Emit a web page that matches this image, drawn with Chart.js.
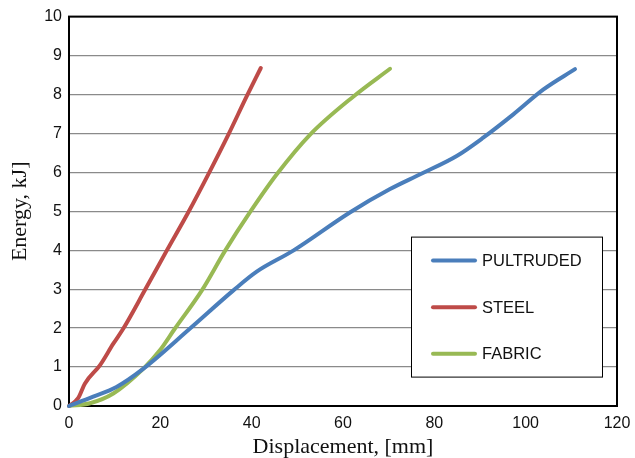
<!DOCTYPE html>
<html>
<head>
<meta charset="utf-8">
<script src="https://cdn.jsdelivr.net/npm/chart.js@4.4.1/dist/chart.umd.min.js"></script>
<style>
  body { margin: 0; background: #fff; }
  canvas { display: block; }
</style>
</head>
<body>
<canvas id="chart" width="635" height="458"></canvas>
<script>
// Series (displacement mm, energy kJ)
const pultrudedX = [0, 5.3, 10.4, 16.3, 26.5, 36.0, 41.1, 49.1, 61.5, 70.3, 76.9, 84.9, 90.7, 97.3, 103.9, 110.8];
const pultrudedY = [0, 0.24, 0.49, 0.96, 1.99, 2.97, 3.45, 3.99, 4.97, 5.57, 5.95, 6.42, 6.89, 7.49, 8.13, 8.65];

const steelX = [0, 2.0, 3.5, 6.8, 9.7, 11.9, 16.6, 21.4, 26.1, 30.5, 34.9, 38.9, 42.0];
const steelY = [0, 0.2, 0.58, 1.05, 1.6, 1.99, 2.97, 3.99, 4.97, 5.95, 6.97, 7.95, 8.68];

const fabricX = [0, 4.6, 9.7, 16.3, 19.9, 23.2, 29.1, 34.2, 39.6, 45.5, 52.8, 62.3, 70.3];
const fabricY = [0, 0.07, 0.32, 0.96, 1.43, 1.99, 2.97, 3.99, 4.97, 5.95, 6.97, 7.95, 8.66];

const seriesNames = ["PULTRUDED", "STEEL", "FABRIC"];
const seriesColors = ["#4a7ebb", "#be4b48", "#98b954"];

const xTicks = { min: 0, max: 120, step: 20 };
const yTicks = { min: 0, max: 10, step: 1 };

function points(xs, ys) {
    return xs.map((x, i) => ({ x: x, y: ys[i] }));
}

const sansFont = "'Liberation Sans', Arial, sans-serif";
const serifFont = "'Liberation Serif', 'Times New Roman', serif";

// black frame around the plot area
const framePlugin = {
    id: "frame",
    beforeDatasetsDraw(chart) {
        const a = chart.chartArea;
        const ctx = chart.ctx;
        ctx.save();
        ctx.strokeStyle = "#000";
        ctx.lineWidth = 2;
        ctx.strokeRect(a.left, a.top, a.right - a.left, a.bottom - a.top);
        ctx.restore();
    }
};

// boxed legend inside the plot, bottom right
const legendPlugin = {
    id: "boxLegend",
    afterDatasetsDraw(chart) {
        const a = chart.chartArea;
        const ctx = chart.ctx;
        const bx = a.right - 206, by = a.top + 220, bw = 191, bh = 140;
        ctx.save();
        ctx.fillStyle = "#fff";
        ctx.fillRect(bx, by, bw, bh);
        ctx.strokeStyle = "#000";
        ctx.lineWidth = 1;
        ctx.strokeRect(bx + 0.5, by + 0.5, bw, bh);
        ctx.font = "16.5px " + sansFont;
        ctx.textBaseline = "middle";
        ctx.lineCap = "round";
        chart.data.datasets.forEach((ds, i) => {
            const ry = by + 24 + i * 46.6;
            ctx.strokeStyle = ds.borderColor;
            ctx.lineWidth = 4;
            ctx.beginPath();
            ctx.moveTo(bx + 22, ry);
            ctx.lineTo(bx + 64, ry);
            ctx.stroke();
            ctx.fillStyle = "#111";
            ctx.fillText(ds.label, bx + 71, ry + 1);
        });
        ctx.restore();
    }
};

const datasets = [
    points(pultrudedX, pultrudedY),
    points(steelX, steelY),
    points(fabricX, fabricY)
].map((data, i) => ({
    label: seriesNames[i],
    data: data,
    borderColor: seriesColors[i],
    backgroundColor: seriesColors[i],
    borderWidth: 4,
    pointRadius: 0,
    cubicInterpolationMode: "monotone",
    borderCapStyle: "round",
    fill: false,
    clip: 6
}));

new Chart(document.getElementById("chart"), {
    type: "line",
    data: { datasets: datasets },
    options: {
        responsive: false,
        animation: false,
        layout: { padding: { left: 0, right: 18, top: 16, bottom: 0 } },
        plugins: {
            legend: { display: false },
            tooltip: { enabled: false }
        },
        scales: {
            x: {
                type: "linear",
                min: xTicks.min,
                max: xTicks.max,
                ticks: {
                    stepSize: xTicks.step,
                    padding: 8,
                    color: "#111",
                    font: { family: sansFont, size: 16 }
                },
                grid: { display: false, drawTicks: false },
                border: { display: false },
                title: {
                    display: true,
                    text: "Displacement, [mm]",
                    color: "#111",
                    font: { family: serifFont, size: 22, lineHeight: 1 },
                    padding: { top: 0, bottom: 0 }
                },
                afterFit(scale) {
                    scale.height = 52;
                    scale.paddingLeft = 0;
                    scale.paddingRight = 0;
                }
            },
            y: {
                min: yTicks.min,
                max: yTicks.max,
                ticks: {
                    stepSize: yTicks.step,
                    padding: 7,
                    color: "#111",
                    font: { family: sansFont, size: 16 }
                },
                grid: { color: "#8a8a8a", lineWidth: 1.3, drawTicks: false },
                border: { display: false },
                title: {
                    display: true,
                    text: "Energy, kJ]",
                    color: "#111",
                    font: { family: serifFont, size: 22, lineHeight: 1 },
                    padding: { top: 9, bottom: 0 }
                },
                afterFit(scale) { scale.width = 69; }
            }
        }
    },
    plugins: [framePlugin, legendPlugin]
});
</script>
</body>
</html>
